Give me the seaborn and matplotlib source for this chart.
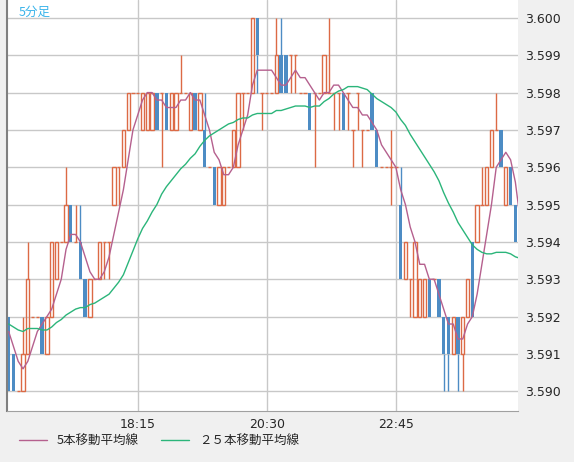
import numpy as np
import pandas as pd
import matplotlib
matplotlib.use("Agg")
import matplotlib.pyplot as plt
import seaborn as sns

sns.set_style("white")
plt.rcParams['font.family'] = ['Noto Sans CJK JP', 'DejaVu Sans']

base = 3.590
step = 0.001
# closes of the 24 bars before the visible window (estimated from MA start levels)
prev_closes = [2,2,2,1,2,2,2,2,2,1,2,2,2,2,2,2,1,2,2,2,2,2,2,2]
# OHLC in ticks of 0.001 above 3.590
opens = [2,1,0,0,1,2,2,2,1,2,3,4,4,5,4,4,3,2,3,3,4,4,5,6,6,7,8,8,7,7,
         7,8,8,8,7,7,8,8,7,8,7,7,6,6,5,5,6,6,6,8,8,8,10,8,8,8,8,9,9,9,
         9,8,8,8,8,8,8,8,8,8,8,8,7,8,7,7,8,7,6,6,6,6,5,3,3,2,2,2,3,3,
         3,2,2,1,2,1,2,4,4,5,5,6,7,7,5,6,5,4]
closes = [0,0,0,1,3,2,2,1,2,4,4,4,5,4,4,3,2,3,3,4,4,4,6,6,7,8,8,8,8,8,
          8,7,8,7,8,8,8,8,8,7,8,6,6,5,6,6,6,7,8,8,8,10,9,8,8,8,9,8,8,9,
          9,8,8,7,8,8,9,8,8,8,7,8,7,8,7,7,7,6,6,6,6,6,3,4,3,4,3,3,2,3,
          2,1,1,2,1,2,3,2,5,5,6,7,7,6,6,5,4,2]
highs_extra = {3:2, 4:4, 12:6, 14:5, 15:5, 36:9, 41:8, 56:10, 57:10, 67:10,
               80:7, 82:6, 99:6, 102:8}
lows_extra = {20:3, 21:3, 23:5, 32:6, 49:7, 52:8, 53:7, 59:8, 60:8, 64:6,
              68:7, 69:7, 71:7, 72:6, 73:7, 74:6, 80:5, 84:2, 91:0, 92:0,
              94:0, 95:0}
tick_pos = [27, 54, 81]
tick_labels = ["18:15", "20:30", "22:45"]
title = "5分足"
legend_labels = ["5本移動平均線", "２５本移動平均線"]

n = len(opens)
o = base + step * np.array(opens, float)
c = base + step * np.array(closes, float)
h = np.maximum(o, c)
l = np.minimum(o, c)
for k, v in highs_extra.items():
    h[k] = base + step * v
for k, v in lows_extra.items():
    l[k] = base + step * v
idx = np.arange(n)
df = pd.DataFrame({"i": idx, "o": o, "c": c, "h": h, "l": l})
allc = pd.Series(np.concatenate([base + step * np.array(prev_closes, float), c]))
np_ = len(prev_closes)
df["ma5"] = allc.rolling(5, min_periods=1).mean().values[np_:]
df["ma25"] = allc.rolling(25, min_periods=1).mean().values[np_:]

up_col = "#dc6a45"
dn_col = "#4d8cc4"
ma5_col = "#b5608e"
ma25_col = "#2bb57a"

fig = plt.figure(figsize=(5.74, 4.62), dpi=100, facecolor="#f0f0f0")
ax = fig.add_axes([7/574, 1 - 411/462, 511/574, 411/462])
ax.set_facecolor("white")

w = 0.7
for i, r in df.iterrows():
    i = int(r["i"])
    if r["c"] > r["o"]:
        col = up_col
        ax.vlines(i, r["c"], r["h"], color=col, lw=1)
        ax.vlines(i, r["l"], r["o"], color=col, lw=1)
        ax.bar(i, r["c"] - r["o"], bottom=r["o"], width=w, fill=False,
               edgecolor=col, linewidth=1)
    elif r["c"] < r["o"]:
        col = dn_col
        ax.vlines(i, r["o"], r["h"], color=col, lw=1)
        ax.vlines(i, r["l"], r["c"], color=col, lw=1)
        ax.bar(i, r["o"] - r["c"], bottom=r["c"], width=w, color=col,
               edgecolor="none")
    else:
        col = up_col
        ax.vlines(i, r["l"], r["h"], color=col, lw=1)
        ax.hlines(r["o"], i - w/2, i + w/2, color=col, lw=1)

sns.lineplot(data=df, x="i", y="ma5", ax=ax, color=ma5_col, lw=1,
             label=legend_labels[0], legend=False)
sns.lineplot(data=df, x="i", y="ma25", ax=ax, color=ma25_col, lw=1,
             label=legend_labels[1], legend=False)

ax.set_xlim(-0.35, 106.55)
ax.set_ylim(base - 0.00053, base + 0.01048)
ax.yaxis.tick_right()
yt = base + step * np.arange(11)
ax.set_yticks(yt)
ax.set_yticklabels([f"{v:.3f}" for v in yt], fontsize=9, family="DejaVu Sans")
ax.set_xticks(tick_pos)
ax.set_xticklabels(tick_labels, fontsize=9, family="DejaVu Sans")
ax.tick_params(length=0, pad=5)
ax.grid(True, color="#c8c8c8", lw=1)
ax.set_axisbelow(True)
ax.set_xlabel("")
ax.set_ylabel("")
for s in ["top", "right"]:
    ax.spines[s].set_visible(False)
ax.spines["left"].set_color("#808080")
ax.spines["left"].set_linewidth(1.5)
ax.spines["bottom"].set_color("#a0a0a0")
ax.text(12/511, 1 - 12/411, title, transform=ax.transAxes, color="#3bb4ea",
        fontsize=9, va="center", ha="left")

handles, labels = ax.get_legend_handles_labels()
fig.legend(handles, labels, loc="center left", bbox_to_anchor=(8/574, 1 - 441/462),
           ncol=2, frameon=False, fontsize=9, handlelength=2.2,
           columnspacing=1.8, handletextpad=0.8)
fig.savefig("out.png", dpi=100, facecolor=fig.get_facecolor())
